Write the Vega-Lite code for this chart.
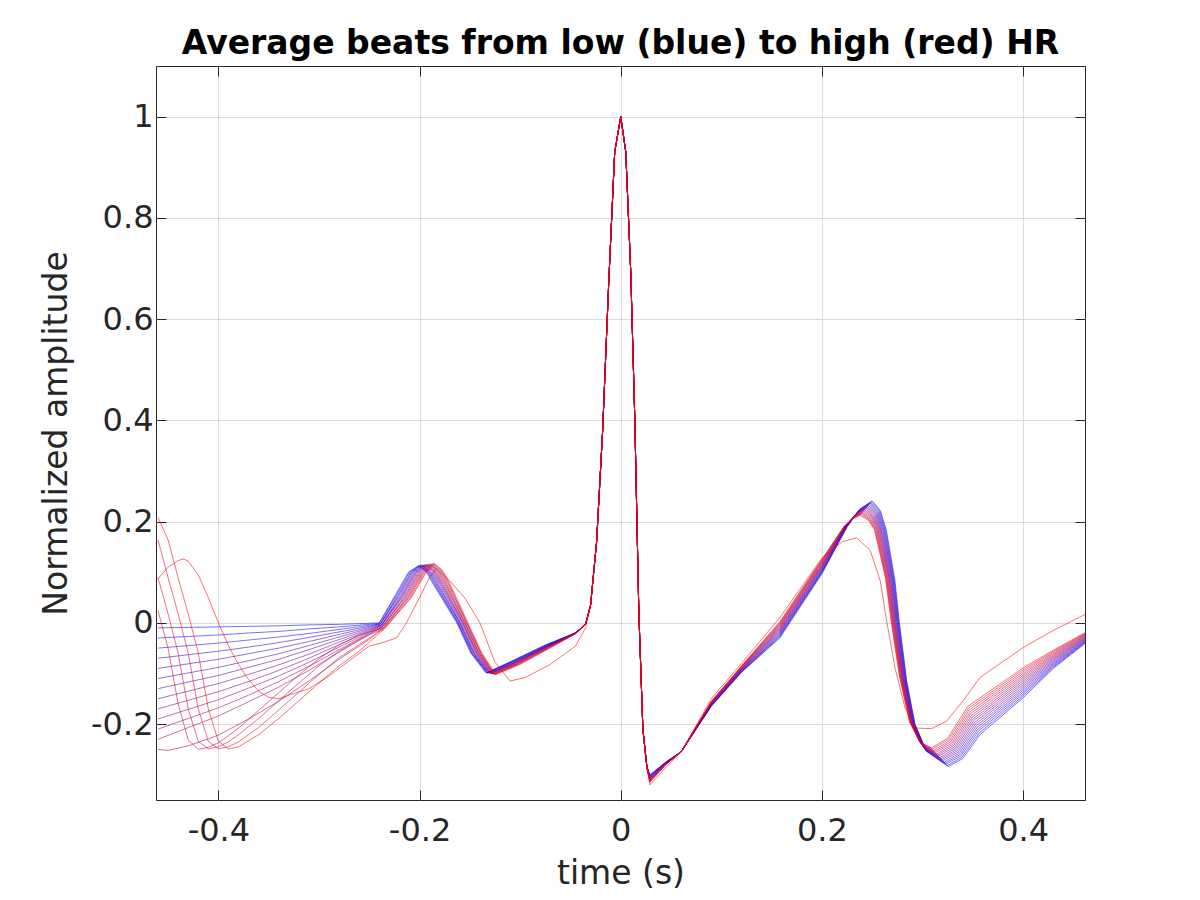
{
  "$schema": "https://vega.github.io/schema/vega-lite/v6.json",
  "width": 929,
  "height": 734,
  "autosize": {"type": "none"},
  "padding": {"left": 156, "top": 66, "right": 115, "bottom": 100},
  "background": "white",
  "title": {
    "text": "Average beats from low (blue) to high (red) HR",
    "font": "DejaVu Sans",
    "fontSize": 33,
    "fontWeight": "bold",
    "color": "#000000",
    "anchor": "middle",
    "baseline": "alphabetic",
    "offset": 12,
    "dy": 33
  },
  "data": {
    "values": [
      {"k":0,"t":-0.46,"v":-0.01},{"k":0,"t":-0.43,"v":-0.009},{"k":0,"t":-0.4,"v":-0.008},{"k":0,"t":-0.37,"v":-0.007},{"k":0,"t":-0.34,"v":-0.006},{"k":0,"t":-0.31,"v":-0.004},{"k":0,"t":-0.28,"v":-0.003},{"k":0,"t":-0.25,"v":-0.001},
      {"k":0,"t":-0.24,"v":0},{"k":0,"t":-0.224,"v":0.055},{"k":0,"t":-0.211,"v":0.1},{"k":0,"t":-0.201,"v":0.113},{"k":0,"t":-0.193,"v":0.1},{"k":0,"t":-0.186,"v":0.075},{"k":0,"t":-0.163,"v":0},{"k":0,"t":-0.149,"v":-0.06},{"k":0,"t":-0.134,"v":-0.099},{"k":0,"t":-0.11,"v":-0.077},{"k":0,"t":-0.075,"v":-0.044},{"k":0,"t":-0.045,"v":-0.02},
      {"k":0,"t":-0.035,"v":-0.003},{"k":0,"t":-0.03,"v":0.035},{"k":0,"t":-0.024,"v":0.16},{"k":0,"t":-0.018,"v":0.38},{"k":0,"t":-0.012,"v":0.67},{"k":0,"t":-0.006,"v":0.93},{"k":0,"t":0,"v":1},{"k":0,"t":0.005,"v":0.93},{"k":0,"t":0.01,"v":0.69},{"k":0,"t":0.014,"v":0.4},{"k":0,"t":0.018,"v":0.02},{"k":0,"t":0.022,"v":-0.21},{"k":0,"t":0.026,"v":-0.285},{"k":0,"t":0.029,"v":-0.3},
      {"k":0,"t":0.045,"v":-0.275},{"k":0,"t":0.06,"v":-0.255},{"k":0,"t":0.09,"v":-0.165},{"k":0,"t":0.12,"v":-0.098},{"k":0,"t":0.158,"v":-0.03},{"k":0,"t":0.2,"v":0.097},{"k":0,"t":0.225,"v":0.19},{"k":0,"t":0.238,"v":0.225},{"k":0,"t":0.25,"v":0.241},{"k":0,"t":0.258,"v":0.222},{"k":0,"t":0.264,"v":0.183},{"k":0,"t":0.2726,"v":0.083},{"k":0,"t":0.277,"v":0},{"k":0,"t":0.2843,"v":-0.115},{"k":0,"t":0.2925,"v":-0.2},{"k":0,"t":0.304,"v":-0.254},{"k":0,"t":0.3257,"v":-0.284},{"k":0,"t":0.34,"v":-0.268},{"k":0,"t":0.357,"v":-0.221},{"k":0,"t":0.4,"v":-0.148},{"k":0,"t":0.43,"v":-0.09},{"k":0,"t":0.462,"v":-0.04},

      {"k":1,"t":-0.46,"v":-0.03},{"k":1,"t":-0.43,"v":-0.027},{"k":1,"t":-0.4,"v":-0.024},{"k":1,"t":-0.37,"v":-0.02},{"k":1,"t":-0.34,"v":-0.017},{"k":1,"t":-0.31,"v":-0.012},{"k":1,"t":-0.28,"v":-0.008},{"k":1,"t":-0.25,"v":-0.003},
      {"k":1,"t":-0.24,"v":-0.001},{"k":1,"t":-0.223,"v":0.055},{"k":1,"t":-0.21,"v":0.1},{"k":1,"t":-0.2,"v":0.113},{"k":1,"t":-0.192,"v":0.1},{"k":1,"t":-0.185,"v":0.075},{"k":1,"t":-0.162,"v":0},{"k":1,"t":-0.148,"v":-0.06},{"k":1,"t":-0.133,"v":-0.099},{"k":1,"t":-0.109,"v":-0.077},{"k":1,"t":-0.075,"v":-0.044},{"k":1,"t":-0.045,"v":-0.02},
      {"k":1,"t":-0.035,"v":-0.003},{"k":1,"t":-0.03,"v":0.035},{"k":1,"t":-0.024,"v":0.16},{"k":1,"t":-0.018,"v":0.38},{"k":1,"t":-0.012,"v":0.67},{"k":1,"t":-0.006,"v":0.93},{"k":1,"t":0,"v":1},{"k":1,"t":0.005,"v":0.93},{"k":1,"t":0.01,"v":0.69},{"k":1,"t":0.014,"v":0.4},{"k":1,"t":0.018,"v":0.02},{"k":1,"t":0.022,"v":-0.21},{"k":1,"t":0.026,"v":-0.285},{"k":1,"t":0.029,"v":-0.301},
      {"k":1,"t":0.045,"v":-0.275},{"k":1,"t":0.06,"v":-0.255},{"k":1,"t":0.09,"v":-0.164},{"k":1,"t":0.12,"v":-0.097},{"k":1,"t":0.158,"v":-0.028},{"k":1,"t":0.2,"v":0.099},{"k":1,"t":0.225,"v":0.19},{"k":1,"t":0.2375,"v":0.224},{"k":1,"t":0.2493,"v":0.239},{"k":1,"t":0.2573,"v":0.221},{"k":1,"t":0.2633,"v":0.183},{"k":1,"t":0.272,"v":0.083},{"k":1,"t":0.2765,"v":0},{"k":1,"t":0.2838,"v":-0.114},{"k":1,"t":0.2922,"v":-0.2},{"k":1,"t":0.3036,"v":-0.253},{"k":1,"t":0.3247,"v":-0.282},{"k":1,"t":0.3391,"v":-0.2655},{"k":1,"t":0.3563,"v":-0.2175},{"k":1,"t":0.4,"v":-0.1443},{"k":1,"t":0.43,"v":-0.0878},{"k":1,"t":0.462,"v":-0.0387},

      {"k":2,"t":-0.46,"v":-0.05},{"k":2,"t":-0.43,"v":-0.045},{"k":2,"t":-0.4,"v":-0.04},{"k":2,"t":-0.37,"v":-0.034},{"k":2,"t":-0.34,"v":-0.028},{"k":2,"t":-0.31,"v":-0.021},{"k":2,"t":-0.28,"v":-0.013},{"k":2,"t":-0.25,"v":-0.005},
      {"k":2,"t":-0.239,"v":-0.002},{"k":2,"t":-0.222,"v":0.054},{"k":2,"t":-0.209,"v":0.099},{"k":2,"t":-0.199,"v":0.114},{"k":2,"t":-0.191,"v":0.1},{"k":2,"t":-0.184,"v":0.075},{"k":2,"t":-0.162,"v":0},{"k":2,"t":-0.148,"v":-0.06},{"k":2,"t":-0.133,"v":-0.099},{"k":2,"t":-0.109,"v":-0.078},{"k":2,"t":-0.074,"v":-0.045},{"k":2,"t":-0.045,"v":-0.02},
      {"k":2,"t":-0.035,"v":-0.003},{"k":2,"t":-0.03,"v":0.035},{"k":2,"t":-0.024,"v":0.16},{"k":2,"t":-0.018,"v":0.38},{"k":2,"t":-0.012,"v":0.67},{"k":2,"t":-0.006,"v":0.93},{"k":2,"t":0,"v":1},{"k":2,"t":0.005,"v":0.93},{"k":2,"t":0.01,"v":0.69},{"k":2,"t":0.014,"v":0.4},{"k":2,"t":0.018,"v":0.02},{"k":2,"t":0.022,"v":-0.21},{"k":2,"t":0.026,"v":-0.285},{"k":2,"t":0.029,"v":-0.302},
      {"k":2,"t":0.045,"v":-0.275},{"k":2,"t":0.06,"v":-0.255},{"k":2,"t":0.09,"v":-0.164},{"k":2,"t":0.12,"v":-0.096},{"k":2,"t":0.158,"v":-0.026},{"k":2,"t":0.2,"v":0.101},{"k":2,"t":0.225,"v":0.19},{"k":2,"t":0.237,"v":0.223},{"k":2,"t":0.2485,"v":0.237},{"k":2,"t":0.2565,"v":0.22},{"k":2,"t":0.2625,"v":0.183},{"k":2,"t":0.2714,"v":0.083},{"k":2,"t":0.276,"v":0},{"k":2,"t":0.2834,"v":-0.114},{"k":2,"t":0.2918,"v":-0.2},{"k":2,"t":0.3031,"v":-0.252},{"k":2,"t":0.3236,"v":-0.279},{"k":2,"t":0.3381,"v":-0.263},{"k":2,"t":0.3555,"v":-0.214},{"k":2,"t":0.4,"v":-0.1406},{"k":2,"t":0.43,"v":-0.0855},{"k":2,"t":0.462,"v":-0.0374},

      {"k":3,"t":-0.46,"v":-0.07},{"k":3,"t":-0.43,"v":-0.063},{"k":3,"t":-0.4,"v":-0.056},{"k":3,"t":-0.37,"v":-0.048},{"k":3,"t":-0.34,"v":-0.039},{"k":3,"t":-0.31,"v":-0.029},{"k":3,"t":-0.28,"v":-0.018},{"k":3,"t":-0.25,"v":-0.007},
      {"k":3,"t":-0.239,"v":-0.002},{"k":3,"t":-0.221,"v":0.054},{"k":3,"t":-0.208,"v":0.099},{"k":3,"t":-0.198,"v":0.114},{"k":3,"t":-0.19,"v":0.1},{"k":3,"t":-0.183,"v":0.075},{"k":3,"t":-0.161,"v":0},{"k":3,"t":-0.147,"v":-0.06},{"k":3,"t":-0.132,"v":-0.099},{"k":3,"t":-0.108,"v":-0.078},{"k":3,"t":-0.074,"v":-0.045},{"k":3,"t":-0.045,"v":-0.02},
      {"k":3,"t":-0.035,"v":-0.003},{"k":3,"t":-0.03,"v":0.035},{"k":3,"t":-0.024,"v":0.16},{"k":3,"t":-0.018,"v":0.38},{"k":3,"t":-0.012,"v":0.67},{"k":3,"t":-0.006,"v":0.93},{"k":3,"t":0,"v":1},{"k":3,"t":0.005,"v":0.93},{"k":3,"t":0.01,"v":0.69},{"k":3,"t":0.014,"v":0.4},{"k":3,"t":0.018,"v":0.02},{"k":3,"t":0.022,"v":-0.21},{"k":3,"t":0.026,"v":-0.285},{"k":3,"t":0.029,"v":-0.303},
      {"k":3,"t":0.045,"v":-0.275},{"k":3,"t":0.06,"v":-0.255},{"k":3,"t":0.09,"v":-0.163},{"k":3,"t":0.12,"v":-0.096},{"k":3,"t":0.158,"v":-0.024},{"k":3,"t":0.2,"v":0.102},{"k":3,"t":0.224,"v":0.19},{"k":3,"t":0.2365,"v":0.221},{"k":3,"t":0.2478,"v":0.236},{"k":3,"t":0.2558,"v":0.218},{"k":3,"t":0.2618,"v":0.183},{"k":3,"t":0.2708,"v":0.083},{"k":3,"t":0.2755,"v":0},{"k":3,"t":0.2829,"v":-0.113},{"k":3,"t":0.2915,"v":-0.2},{"k":3,"t":0.3027,"v":-0.25},{"k":3,"t":0.3226,"v":-0.277},{"k":3,"t":0.3372,"v":-0.2605},{"k":3,"t":0.3548,"v":-0.2105},{"k":3,"t":0.4,"v":-0.1369},{"k":3,"t":0.43,"v":-0.0833},{"k":3,"t":0.462,"v":-0.0361},

      {"k":4,"t":-0.46,"v":-0.09},{"k":4,"t":-0.43,"v":-0.081},{"k":4,"t":-0.4,"v":-0.072},{"k":4,"t":-0.37,"v":-0.061},{"k":4,"t":-0.34,"v":-0.05},{"k":4,"t":-0.31,"v":-0.037},{"k":4,"t":-0.28,"v":-0.023},{"k":4,"t":-0.25,"v":-0.009},
      {"k":4,"t":-0.239,"v":-0.003},{"k":4,"t":-0.22,"v":0.054},{"k":4,"t":-0.207,"v":0.099},{"k":4,"t":-0.197,"v":0.114},{"k":4,"t":-0.189,"v":0.1},{"k":4,"t":-0.182,"v":0.075},{"k":4,"t":-0.16,"v":0},{"k":4,"t":-0.146,"v":-0.06},{"k":4,"t":-0.132,"v":-0.099},{"k":4,"t":-0.108,"v":-0.078},{"k":4,"t":-0.074,"v":-0.045},{"k":4,"t":-0.045,"v":-0.02},
      {"k":4,"t":-0.035,"v":-0.003},{"k":4,"t":-0.03,"v":0.035},{"k":4,"t":-0.024,"v":0.16},{"k":4,"t":-0.018,"v":0.38},{"k":4,"t":-0.012,"v":0.67},{"k":4,"t":-0.006,"v":0.93},{"k":4,"t":0,"v":1},{"k":4,"t":0.005,"v":0.93},{"k":4,"t":0.01,"v":0.69},{"k":4,"t":0.014,"v":0.4},{"k":4,"t":0.018,"v":0.02},{"k":4,"t":0.022,"v":-0.21},{"k":4,"t":0.026,"v":-0.285},{"k":4,"t":0.029,"v":-0.304},
      {"k":4,"t":0.045,"v":-0.276},{"k":4,"t":0.06,"v":-0.255},{"k":4,"t":0.09,"v":-0.163},{"k":4,"t":0.12,"v":-0.095},{"k":4,"t":0.158,"v":-0.022},{"k":4,"t":0.2,"v":0.104},{"k":4,"t":0.224,"v":0.19},{"k":4,"t":0.236,"v":0.22},{"k":4,"t":0.247,"v":0.234},{"k":4,"t":0.255,"v":0.217},{"k":4,"t":0.261,"v":0.183},{"k":4,"t":0.2702,"v":0.083},{"k":4,"t":0.275,"v":0},{"k":4,"t":0.2825,"v":-0.113},{"k":4,"t":0.2911,"v":-0.199},{"k":4,"t":0.3022,"v":-0.249},{"k":4,"t":0.3215,"v":-0.275},{"k":4,"t":0.3363,"v":-0.258},{"k":4,"t":0.354,"v":-0.207},{"k":4,"t":0.4,"v":-0.1333},{"k":4,"t":0.43,"v":-0.081},{"k":4,"t":0.462,"v":-0.0348},

      {"k":5,"t":-0.46,"v":-0.11},{"k":5,"t":-0.43,"v":-0.099},{"k":5,"t":-0.4,"v":-0.088},{"k":5,"t":-0.37,"v":-0.075},{"k":5,"t":-0.34,"v":-0.061},{"k":5,"t":-0.31,"v":-0.045},{"k":5,"t":-0.28,"v":-0.028},{"k":5,"t":-0.25,"v":-0.011},
      {"k":5,"t":-0.238,"v":-0.004},{"k":5,"t":-0.219,"v":0.053},{"k":5,"t":-0.206,"v":0.098},{"k":5,"t":-0.196,"v":0.114},{"k":5,"t":-0.188,"v":0.1},{"k":5,"t":-0.181,"v":0.075},{"k":5,"t":-0.16,"v":0},{"k":5,"t":-0.146,"v":-0.06},{"k":5,"t":-0.131,"v":-0.099},{"k":5,"t":-0.107,"v":-0.079},{"k":5,"t":-0.073,"v":-0.046},{"k":5,"t":-0.045,"v":-0.02},
      {"k":5,"t":-0.035,"v":-0.003},{"k":5,"t":-0.03,"v":0.035},{"k":5,"t":-0.024,"v":0.16},{"k":5,"t":-0.018,"v":0.38},{"k":5,"t":-0.012,"v":0.67},{"k":5,"t":-0.006,"v":0.93},{"k":5,"t":0,"v":1},{"k":5,"t":0.005,"v":0.93},{"k":5,"t":0.01,"v":0.69},{"k":5,"t":0.014,"v":0.4},{"k":5,"t":0.018,"v":0.02},{"k":5,"t":0.022,"v":-0.21},{"k":5,"t":0.026,"v":-0.285},{"k":5,"t":0.029,"v":-0.305},
      {"k":5,"t":0.045,"v":-0.276},{"k":5,"t":0.06,"v":-0.255},{"k":5,"t":0.09,"v":-0.162},{"k":5,"t":0.12,"v":-0.094},{"k":5,"t":0.158,"v":-0.02},{"k":5,"t":0.2,"v":0.106},{"k":5,"t":0.224,"v":0.19},{"k":5,"t":0.2355,"v":0.219},{"k":5,"t":0.2463,"v":0.232},{"k":5,"t":0.2543,"v":0.216},{"k":5,"t":0.2603,"v":0.183},{"k":5,"t":0.2696,"v":0.085},{"k":5,"t":0.2745,"v":0},{"k":5,"t":0.282,"v":-0.112},{"k":5,"t":0.2908,"v":-0.199},{"k":5,"t":0.3018,"v":-0.248},{"k":5,"t":0.3205,"v":-0.272},{"k":5,"t":0.3353,"v":-0.2555},{"k":5,"t":0.3533,"v":-0.2035},{"k":5,"t":0.4,"v":-0.1296},{"k":5,"t":0.43,"v":-0.0788},{"k":5,"t":0.462,"v":-0.0334},

      {"k":6,"t":-0.46,"v":-0.13},{"k":6,"t":-0.43,"v":-0.117},{"k":6,"t":-0.4,"v":-0.104},{"k":6,"t":-0.37,"v":-0.088},{"k":6,"t":-0.34,"v":-0.072},{"k":6,"t":-0.31,"v":-0.053},{"k":6,"t":-0.28,"v":-0.033},{"k":6,"t":-0.25,"v":-0.013},
      {"k":6,"t":-0.238,"v":-0.005},{"k":6,"t":-0.218,"v":0.053},{"k":6,"t":-0.205,"v":0.098},{"k":6,"t":-0.195,"v":0.115},{"k":6,"t":-0.187,"v":0.101},{"k":6,"t":-0.18,"v":0.076},{"k":6,"t":-0.159,"v":0},{"k":6,"t":-0.145,"v":-0.06},{"k":6,"t":-0.13,"v":-0.1},{"k":6,"t":-0.106,"v":-0.079},{"k":6,"t":-0.073,"v":-0.046},{"k":6,"t":-0.045,"v":-0.02},
      {"k":6,"t":-0.035,"v":-0.003},{"k":6,"t":-0.03,"v":0.035},{"k":6,"t":-0.024,"v":0.16},{"k":6,"t":-0.018,"v":0.38},{"k":6,"t":-0.012,"v":0.67},{"k":6,"t":-0.006,"v":0.93},{"k":6,"t":0,"v":1},{"k":6,"t":0.005,"v":0.93},{"k":6,"t":0.01,"v":0.69},{"k":6,"t":0.014,"v":0.4},{"k":6,"t":0.018,"v":0.02},{"k":6,"t":0.022,"v":-0.21},{"k":6,"t":0.026,"v":-0.285},{"k":6,"t":0.029,"v":-0.306},
      {"k":6,"t":0.045,"v":-0.276},{"k":6,"t":0.06,"v":-0.255},{"k":6,"t":0.09,"v":-0.161},{"k":6,"t":0.12,"v":-0.093},{"k":6,"t":0.158,"v":-0.018},{"k":6,"t":0.2,"v":0.108},{"k":6,"t":0.224,"v":0.19},{"k":6,"t":0.235,"v":0.218},{"k":6,"t":0.2455,"v":0.23},{"k":6,"t":0.2535,"v":0.215},{"k":6,"t":0.2595,"v":0.183},{"k":6,"t":0.269,"v":0.085},{"k":6,"t":0.274,"v":0},{"k":6,"t":0.2816,"v":-0.111},{"k":6,"t":0.2904,"v":-0.199},{"k":6,"t":0.3014,"v":-0.247},{"k":6,"t":0.3194,"v":-0.27},{"k":6,"t":0.3344,"v":-0.253},{"k":6,"t":0.3525,"v":-0.2},{"k":6,"t":0.4,"v":-0.1259},{"k":6,"t":0.43,"v":-0.0765},{"k":6,"t":0.462,"v":-0.0321},

      {"k":7,"t":-0.46,"v":-0.15},{"k":7,"t":-0.43,"v":-0.135},{"k":7,"t":-0.4,"v":-0.12},{"k":7,"t":-0.37,"v":-0.102},{"k":7,"t":-0.34,"v":-0.083},{"k":7,"t":-0.31,"v":-0.062},{"k":7,"t":-0.28,"v":-0.038},{"k":7,"t":-0.25,"v":-0.015},
      {"k":7,"t":-0.238,"v":-0.005},{"k":7,"t":-0.217,"v":0.053},{"k":7,"t":-0.204,"v":0.098},{"k":7,"t":-0.194,"v":0.115},{"k":7,"t":-0.186,"v":0.101},{"k":7,"t":-0.179,"v":0.076},{"k":7,"t":-0.158,"v":0},{"k":7,"t":-0.144,"v":-0.06},{"k":7,"t":-0.13,"v":-0.1},{"k":7,"t":-0.106,"v":-0.079},{"k":7,"t":-0.073,"v":-0.046},{"k":7,"t":-0.045,"v":-0.02},
      {"k":7,"t":-0.035,"v":-0.003},{"k":7,"t":-0.03,"v":0.035},{"k":7,"t":-0.024,"v":0.16},{"k":7,"t":-0.018,"v":0.38},{"k":7,"t":-0.012,"v":0.67},{"k":7,"t":-0.006,"v":0.93},{"k":7,"t":0,"v":1},{"k":7,"t":0.005,"v":0.93},{"k":7,"t":0.01,"v":0.69},{"k":7,"t":0.014,"v":0.4},{"k":7,"t":0.018,"v":0.02},{"k":7,"t":0.022,"v":-0.21},{"k":7,"t":0.026,"v":-0.285},{"k":7,"t":0.029,"v":-0.307},
      {"k":7,"t":0.045,"v":-0.276},{"k":7,"t":0.06,"v":-0.255},{"k":7,"t":0.09,"v":-0.161},{"k":7,"t":0.12,"v":-0.092},{"k":7,"t":0.158,"v":-0.016},{"k":7,"t":0.2,"v":0.11},{"k":7,"t":0.224,"v":0.19},{"k":7,"t":0.2345,"v":0.216},{"k":7,"t":0.2448,"v":0.228},{"k":7,"t":0.2528,"v":0.214},{"k":7,"t":0.2588,"v":0.183},{"k":7,"t":0.2684,"v":0.085},{"k":7,"t":0.2735,"v":0},{"k":7,"t":0.2811,"v":-0.111},{"k":7,"t":0.2901,"v":-0.199},{"k":7,"t":0.3009,"v":-0.246},{"k":7,"t":0.3184,"v":-0.268},{"k":7,"t":0.3334,"v":-0.2505},{"k":7,"t":0.3518,"v":-0.1965},{"k":7,"t":0.4,"v":-0.1222},{"k":7,"t":0.43,"v":-0.0743},{"k":7,"t":0.462,"v":-0.0308},

      {"k":8,"t":-0.46,"v":-0.17},{"k":8,"t":-0.43,"v":-0.153},{"k":8,"t":-0.4,"v":-0.136},{"k":8,"t":-0.37,"v":-0.116},{"k":8,"t":-0.34,"v":-0.094},{"k":8,"t":-0.31,"v":-0.07},{"k":8,"t":-0.28,"v":-0.043},{"k":8,"t":-0.25,"v":-0.017},
      {"k":8,"t":-0.238,"v":-0.006},{"k":8,"t":-0.216,"v":0.053},{"k":8,"t":-0.203,"v":0.098},{"k":8,"t":-0.193,"v":0.115},{"k":8,"t":-0.185,"v":0.101},{"k":8,"t":-0.178,"v":0.076},{"k":8,"t":-0.157,"v":0},{"k":8,"t":-0.143,"v":-0.06},{"k":8,"t":-0.129,"v":-0.1},{"k":8,"t":-0.105,"v":-0.079},{"k":8,"t":-0.073,"v":-0.046},{"k":8,"t":-0.045,"v":-0.021},
      {"k":8,"t":-0.035,"v":-0.003},{"k":8,"t":-0.03,"v":0.035},{"k":8,"t":-0.024,"v":0.16},{"k":8,"t":-0.018,"v":0.38},{"k":8,"t":-0.012,"v":0.67},{"k":8,"t":-0.006,"v":0.93},{"k":8,"t":0,"v":1},{"k":8,"t":0.005,"v":0.93},{"k":8,"t":0.01,"v":0.69},{"k":8,"t":0.014,"v":0.4},{"k":8,"t":0.018,"v":0.02},{"k":8,"t":0.022,"v":-0.21},{"k":8,"t":0.026,"v":-0.285},{"k":8,"t":0.029,"v":-0.308},
      {"k":8,"t":0.045,"v":-0.278},{"k":8,"t":0.06,"v":-0.255},{"k":8,"t":0.09,"v":-0.16},{"k":8,"t":0.12,"v":-0.092},{"k":8,"t":0.158,"v":-0.014},{"k":8,"t":0.2,"v":0.112},{"k":8,"t":0.223,"v":0.19},{"k":8,"t":0.234,"v":0.215},{"k":8,"t":0.244,"v":0.227},{"k":8,"t":0.252,"v":0.212},{"k":8,"t":0.258,"v":0.184},{"k":8,"t":0.2678,"v":0.085},{"k":8,"t":0.273,"v":0},{"k":8,"t":0.2807,"v":-0.11},{"k":8,"t":0.2897,"v":-0.198},{"k":8,"t":0.3005,"v":-0.245},{"k":8,"t":0.3173,"v":-0.266},{"k":8,"t":0.3325,"v":-0.248},{"k":8,"t":0.351,"v":-0.193},{"k":8,"t":0.4,"v":-0.1185},{"k":8,"t":0.43,"v":-0.072},{"k":8,"t":0.462,"v":-0.0295},

      {"k":9,"t":-0.46,"v":-0.19},{"k":9,"t":-0.43,"v":-0.171},{"k":9,"t":-0.4,"v":-0.152},{"k":9,"t":-0.37,"v":-0.129},{"k":9,"t":-0.34,"v":-0.105},{"k":9,"t":-0.31,"v":-0.078},{"k":9,"t":-0.28,"v":-0.048},{"k":9,"t":-0.25,"v":-0.019},
      {"k":9,"t":-0.237,"v":-0.007},{"k":9,"t":-0.215,"v":0.052},{"k":9,"t":-0.202,"v":0.097},{"k":9,"t":-0.192,"v":0.115},{"k":9,"t":-0.184,"v":0.101},{"k":9,"t":-0.177,"v":0.076},{"k":9,"t":-0.157,"v":0},{"k":9,"t":-0.143,"v":-0.06},{"k":9,"t":-0.129,"v":-0.1},{"k":9,"t":-0.105,"v":-0.08},{"k":9,"t":-0.072,"v":-0.047},{"k":9,"t":-0.045,"v":-0.021},
      {"k":9,"t":-0.035,"v":-0.003},{"k":9,"t":-0.03,"v":0.035},{"k":9,"t":-0.024,"v":0.16},{"k":9,"t":-0.018,"v":0.38},{"k":9,"t":-0.012,"v":0.67},{"k":9,"t":-0.006,"v":0.93},{"k":9,"t":0,"v":1},{"k":9,"t":0.005,"v":0.93},{"k":9,"t":0.01,"v":0.69},{"k":9,"t":0.014,"v":0.4},{"k":9,"t":0.018,"v":0.02},{"k":9,"t":0.022,"v":-0.21},{"k":9,"t":0.026,"v":-0.285},{"k":9,"t":0.029,"v":-0.308},
      {"k":9,"t":0.045,"v":-0.278},{"k":9,"t":0.06,"v":-0.255},{"k":9,"t":0.09,"v":-0.159},{"k":9,"t":0.12,"v":-0.091},{"k":9,"t":0.158,"v":-0.012},{"k":9,"t":0.2,"v":0.113},{"k":9,"t":0.223,"v":0.19},{"k":9,"t":0.2335,"v":0.214},{"k":9,"t":0.2433,"v":0.225},{"k":9,"t":0.2513,"v":0.211},{"k":9,"t":0.2573,"v":0.184},{"k":9,"t":0.2672,"v":0.085},{"k":9,"t":0.2725,"v":0},{"k":9,"t":0.2802,"v":-0.109},{"k":9,"t":0.2894,"v":-0.198},{"k":9,"t":0.3,"v":-0.243},{"k":9,"t":0.3163,"v":-0.263},{"k":9,"t":0.3316,"v":-0.2455},{"k":9,"t":0.3503,"v":-0.1895},{"k":9,"t":0.4,"v":-0.1148},{"k":9,"t":0.43,"v":-0.0698},{"k":9,"t":0.462,"v":-0.0282},

      {"k":10,"t":-0.46,"v":-0.21},{"k":10,"t":-0.43,"v":-0.189},{"k":10,"t":-0.4,"v":-0.168},{"k":10,"t":-0.37,"v":-0.143},{"k":10,"t":-0.34,"v":-0.116},{"k":10,"t":-0.31,"v":-0.086},{"k":10,"t":-0.28,"v":-0.053},{"k":10,"t":-0.25,"v":-0.021},
      {"k":10,"t":-0.237,"v":-0.008},{"k":10,"t":-0.214,"v":0.052},{"k":10,"t":-0.201,"v":0.097},{"k":10,"t":-0.191,"v":0.116},{"k":10,"t":-0.183,"v":0.101},{"k":10,"t":-0.176,"v":0.076},{"k":10,"t":-0.156,"v":0},{"k":10,"t":-0.142,"v":-0.06},{"k":10,"t":-0.128,"v":-0.1},{"k":10,"t":-0.104,"v":-0.08},{"k":10,"t":-0.072,"v":-0.047},{"k":10,"t":-0.045,"v":-0.021},
      {"k":10,"t":-0.035,"v":-0.003},{"k":10,"t":-0.03,"v":0.035},{"k":10,"t":-0.024,"v":0.16},{"k":10,"t":-0.018,"v":0.38},{"k":10,"t":-0.012,"v":0.67},{"k":10,"t":-0.006,"v":0.93},{"k":10,"t":0,"v":1},{"k":10,"t":0.005,"v":0.93},{"k":10,"t":0.01,"v":0.69},{"k":10,"t":0.014,"v":0.4},{"k":10,"t":0.018,"v":0.02},{"k":10,"t":0.022,"v":-0.21},{"k":10,"t":0.026,"v":-0.285},{"k":10,"t":0.029,"v":-0.309},
      {"k":10,"t":0.045,"v":-0.278},{"k":10,"t":0.06,"v":-0.255},{"k":10,"t":0.09,"v":-0.159},{"k":10,"t":0.12,"v":-0.09},{"k":10,"t":0.158,"v":-0.01},{"k":10,"t":0.2,"v":0.115},{"k":10,"t":0.223,"v":0.19},{"k":10,"t":0.233,"v":0.213},{"k":10,"t":0.2425,"v":0.223},{"k":10,"t":0.2505,"v":0.21},{"k":10,"t":0.2565,"v":0.184},{"k":10,"t":0.2666,"v":0.087},{"k":10,"t":0.272,"v":0},{"k":10,"t":0.2798,"v":-0.109},{"k":10,"t":0.289,"v":-0.198},{"k":10,"t":0.2996,"v":-0.242},{"k":10,"t":0.3153,"v":-0.261},{"k":10,"t":0.3306,"v":-0.243},{"k":10,"t":0.3495,"v":-0.186},{"k":10,"t":0.4,"v":-0.1111},{"k":10,"t":0.43,"v":-0.0675},{"k":10,"t":0.462,"v":-0.0269},

      {"k":11,"t":-0.46,"v":-0.23},{"k":11,"t":-0.43,"v":-0.207},{"k":11,"t":-0.4,"v":-0.184},{"k":11,"t":-0.37,"v":-0.156},{"k":11,"t":-0.34,"v":-0.127},{"k":11,"t":-0.31,"v":-0.094},{"k":11,"t":-0.28,"v":-0.058},{"k":11,"t":-0.25,"v":-0.023},
      {"k":11,"t":-0.237,"v":-0.008},{"k":11,"t":-0.213,"v":0.052},{"k":11,"t":-0.2,"v":0.097},{"k":11,"t":-0.19,"v":0.116},{"k":11,"t":-0.182,"v":0.102},{"k":11,"t":-0.175,"v":0.077},{"k":11,"t":-0.155,"v":0},{"k":11,"t":-0.141,"v":-0.06},{"k":11,"t":-0.127,"v":-0.101},{"k":11,"t":-0.103,"v":-0.08},{"k":11,"t":-0.072,"v":-0.047},{"k":11,"t":-0.045,"v":-0.021},
      {"k":11,"t":-0.035,"v":-0.003},{"k":11,"t":-0.03,"v":0.035},{"k":11,"t":-0.024,"v":0.16},{"k":11,"t":-0.018,"v":0.38},{"k":11,"t":-0.012,"v":0.67},{"k":11,"t":-0.006,"v":0.93},{"k":11,"t":0,"v":1},{"k":11,"t":0.005,"v":0.93},{"k":11,"t":0.01,"v":0.69},{"k":11,"t":0.014,"v":0.4},{"k":11,"t":0.018,"v":0.02},{"k":11,"t":0.022,"v":-0.21},{"k":11,"t":0.026,"v":-0.285},{"k":11,"t":0.029,"v":-0.31},
      {"k":11,"t":0.045,"v":-0.278},{"k":11,"t":0.06,"v":-0.255},{"k":11,"t":0.09,"v":-0.158},{"k":11,"t":0.12,"v":-0.089},{"k":11,"t":0.158,"v":-0.008},{"k":11,"t":0.2,"v":0.117},{"k":11,"t":0.223,"v":0.19},{"k":11,"t":0.2325,"v":0.211},{"k":11,"t":0.2418,"v":0.221},{"k":11,"t":0.2498,"v":0.209},{"k":11,"t":0.2558,"v":0.184},{"k":11,"t":0.266,"v":0.087},{"k":11,"t":0.2715,"v":0},{"k":11,"t":0.2793,"v":-0.108},{"k":11,"t":0.2887,"v":-0.198},{"k":11,"t":0.2992,"v":-0.241},{"k":11,"t":0.3142,"v":-0.259},{"k":11,"t":0.3297,"v":-0.2405},{"k":11,"t":0.3488,"v":-0.1825},{"k":11,"t":0.4,"v":-0.1074},{"k":11,"t":0.43,"v":-0.0653},{"k":11,"t":0.462,"v":-0.0256},

      {"k":12,"t":-0.46,"v":-0.25},{"k":12,"t":-0.45,"v":-0.252},{"k":12,"t":-0.43,"v":-0.243},{"k":12,"t":-0.4,"v":-0.222},{"k":12,"t":-0.37,"v":-0.19},{"k":12,"t":-0.34,"v":-0.155},{"k":12,"t":-0.31,"v":-0.115},{"k":12,"t":-0.28,"v":-0.072},{"k":12,"t":-0.25,"v":-0.033},
      {"k":12,"t":-0.236,"v":-0.009},{"k":12,"t":-0.212,"v":0.051},{"k":12,"t":-0.199,"v":0.096},{"k":12,"t":-0.189,"v":0.116},{"k":12,"t":-0.181,"v":0.102},{"k":12,"t":-0.174,"v":0.077},{"k":12,"t":-0.155,"v":0},{"k":12,"t":-0.141,"v":-0.06},{"k":12,"t":-0.127,"v":-0.101},{"k":12,"t":-0.103,"v":-0.081},{"k":12,"t":-0.071,"v":-0.048},{"k":12,"t":-0.045,"v":-0.021},
      {"k":12,"t":-0.035,"v":-0.003},{"k":12,"t":-0.03,"v":0.035},{"k":12,"t":-0.024,"v":0.16},{"k":12,"t":-0.018,"v":0.38},{"k":12,"t":-0.012,"v":0.67},{"k":12,"t":-0.006,"v":0.93},{"k":12,"t":0,"v":1},{"k":12,"t":0.005,"v":0.93},{"k":12,"t":0.01,"v":0.69},{"k":12,"t":0.014,"v":0.4},{"k":12,"t":0.018,"v":0.02},{"k":12,"t":0.022,"v":-0.21},{"k":12,"t":0.026,"v":-0.285},{"k":12,"t":0.029,"v":-0.311},
      {"k":12,"t":0.045,"v":-0.279},{"k":12,"t":0.06,"v":-0.255},{"k":12,"t":0.09,"v":-0.158},{"k":12,"t":0.12,"v":-0.088},{"k":12,"t":0.158,"v":-0.006},{"k":12,"t":0.2,"v":0.119},{"k":12,"t":0.223,"v":0.19},{"k":12,"t":0.232,"v":0.21},{"k":12,"t":0.241,"v":0.219},{"k":12,"t":0.249,"v":0.208},{"k":12,"t":0.255,"v":0.184},{"k":12,"t":0.2654,"v":0.087},{"k":12,"t":0.271,"v":0},{"k":12,"t":0.2789,"v":-0.108},{"k":12,"t":0.2884,"v":-0.196},{"k":12,"t":0.2987,"v":-0.24},{"k":12,"t":0.3132,"v":-0.256},{"k":12,"t":0.3288,"v":-0.238},{"k":12,"t":0.348,"v":-0.179},{"k":12,"t":0.4,"v":-0.1038},{"k":12,"t":0.43,"v":-0.063},{"k":12,"t":0.462,"v":-0.0243},

      {"k":13,"t":-0.46,"v":0.024},{"k":13,"t":-0.45,"v":-0.05},{"k":13,"t":-0.44,"v":-0.16},{"k":13,"t":-0.43,"v":-0.231},{"k":13,"t":-0.42,"v":-0.25},{"k":13,"t":-0.41,"v":-0.246},{"k":13,"t":-0.4,"v":-0.237},{"k":13,"t":-0.39,"v":-0.223},{"k":13,"t":-0.38,"v":-0.208},{"k":13,"t":-0.36,"v":-0.173},{"k":13,"t":-0.34,"v":-0.138},{"k":13,"t":-0.32,"v":-0.103},{"k":13,"t":-0.3,"v":-0.071},{"k":13,"t":-0.28,"v":-0.044},{"k":13,"t":-0.26,"v":-0.024},
      {"k":13,"t":-0.236,"v":-0.01},{"k":13,"t":-0.211,"v":0.051},{"k":13,"t":-0.198,"v":0.096},{"k":13,"t":-0.188,"v":0.116},{"k":13,"t":-0.18,"v":0.102},{"k":13,"t":-0.173,"v":0.077},{"k":13,"t":-0.154,"v":0},{"k":13,"t":-0.14,"v":-0.06},{"k":13,"t":-0.126,"v":-0.101},{"k":13,"t":-0.102,"v":-0.081},{"k":13,"t":-0.071,"v":-0.048},{"k":13,"t":-0.045,"v":-0.021},
      {"k":13,"t":-0.035,"v":-0.003},{"k":13,"t":-0.03,"v":0.035},{"k":13,"t":-0.024,"v":0.16},{"k":13,"t":-0.018,"v":0.38},{"k":13,"t":-0.012,"v":0.67},{"k":13,"t":-0.006,"v":0.93},{"k":13,"t":0,"v":1},{"k":13,"t":0.005,"v":0.93},{"k":13,"t":0.01,"v":0.69},{"k":13,"t":0.014,"v":0.4},{"k":13,"t":0.018,"v":0.02},{"k":13,"t":0.022,"v":-0.21},{"k":13,"t":0.026,"v":-0.285},{"k":13,"t":0.029,"v":-0.312},
      {"k":13,"t":0.045,"v":-0.279},{"k":13,"t":0.06,"v":-0.255},{"k":13,"t":0.09,"v":-0.157},{"k":13,"t":0.12,"v":-0.087},{"k":13,"t":0.158,"v":-0.004},{"k":13,"t":0.2,"v":0.121},{"k":13,"t":0.222,"v":0.19},{"k":13,"t":0.2315,"v":0.209},{"k":13,"t":0.2403,"v":0.217},{"k":13,"t":0.2483,"v":0.206},{"k":13,"t":0.2543,"v":0.184},{"k":13,"t":0.2648,"v":0.087},{"k":13,"t":0.2705,"v":0},{"k":13,"t":0.2784,"v":-0.107},{"k":13,"t":0.288,"v":-0.196},{"k":13,"t":0.2983,"v":-0.239},{"k":13,"t":0.3121,"v":-0.254},{"k":13,"t":0.3278,"v":-0.2355},{"k":13,"t":0.3473,"v":-0.1755},{"k":13,"t":0.4,"v":-0.1001},{"k":13,"t":0.43,"v":-0.0608},{"k":13,"t":0.462,"v":-0.0229},

      {"k":14,"t":-0.46,"v":0.089},{"k":14,"t":-0.45,"v":0.018},{"k":14,"t":-0.44,"v":-0.06},{"k":14,"t":-0.43,"v":-0.17},{"k":14,"t":-0.42,"v":-0.234},{"k":14,"t":-0.41,"v":-0.249},{"k":14,"t":-0.4,"v":-0.245},{"k":14,"t":-0.39,"v":-0.235},{"k":14,"t":-0.38,"v":-0.221},{"k":14,"t":-0.36,"v":-0.189},{"k":14,"t":-0.34,"v":-0.154},{"k":14,"t":-0.32,"v":-0.119},{"k":14,"t":-0.3,"v":-0.085},{"k":14,"t":-0.28,"v":-0.056},{"k":14,"t":-0.26,"v":-0.033},
      {"k":14,"t":-0.236,"v":-0.011},{"k":14,"t":-0.21,"v":0.051},{"k":14,"t":-0.197,"v":0.096},{"k":14,"t":-0.187,"v":0.117},{"k":14,"t":-0.179,"v":0.103},{"k":14,"t":-0.172,"v":0.078},{"k":14,"t":-0.153,"v":0},{"k":14,"t":-0.139,"v":-0.06},{"k":14,"t":-0.126,"v":-0.102},{"k":14,"t":-0.102,"v":-0.081},{"k":14,"t":-0.071,"v":-0.048},{"k":14,"t":-0.045,"v":-0.021},
      {"k":14,"t":-0.035,"v":-0.003},{"k":14,"t":-0.03,"v":0.035},{"k":14,"t":-0.024,"v":0.16},{"k":14,"t":-0.018,"v":0.38},{"k":14,"t":-0.012,"v":0.67},{"k":14,"t":-0.006,"v":0.93},{"k":14,"t":0,"v":1},{"k":14,"t":0.005,"v":0.93},{"k":14,"t":0.01,"v":0.69},{"k":14,"t":0.014,"v":0.4},{"k":14,"t":0.018,"v":0.02},{"k":14,"t":0.022,"v":-0.21},{"k":14,"t":0.026,"v":-0.285},{"k":14,"t":0.029,"v":-0.313},
      {"k":14,"t":0.045,"v":-0.279},{"k":14,"t":0.06,"v":-0.255},{"k":14,"t":0.09,"v":-0.156},{"k":14,"t":0.12,"v":-0.087},{"k":14,"t":0.158,"v":-0.002},{"k":14,"t":0.2,"v":0.122},{"k":14,"t":0.222,"v":0.19},{"k":14,"t":0.231,"v":0.208},{"k":14,"t":0.2395,"v":0.216},{"k":14,"t":0.2475,"v":0.205},{"k":14,"t":0.2535,"v":0.184},{"k":14,"t":0.2642,"v":0.089},{"k":14,"t":0.27,"v":0},{"k":14,"t":0.278,"v":-0.106},{"k":14,"t":0.2877,"v":-0.196},{"k":14,"t":0.2978,"v":-0.237},{"k":14,"t":0.3111,"v":-0.252},{"k":14,"t":0.3269,"v":-0.233},{"k":14,"t":0.3465,"v":-0.172},{"k":14,"t":0.4,"v":-0.0964},{"k":14,"t":0.43,"v":-0.0585},{"k":14,"t":0.462,"v":-0.0216},

      {"k":15,"t":-0.46,"v":0.164},{"k":15,"t":-0.45,"v":0.089},{"k":15,"t":-0.44,"v":0.018},{"k":15,"t":-0.43,"v":-0.06},{"k":15,"t":-0.42,"v":-0.17},{"k":15,"t":-0.41,"v":-0.234},{"k":15,"t":-0.4,"v":-0.249},{"k":15,"t":-0.39,"v":-0.245},{"k":15,"t":-0.38,"v":-0.235},{"k":15,"t":-0.36,"v":-0.207},{"k":15,"t":-0.34,"v":-0.172},{"k":15,"t":-0.32,"v":-0.137},{"k":15,"t":-0.3,"v":-0.102},{"k":15,"t":-0.28,"v":-0.069},{"k":15,"t":-0.26,"v":-0.043},
      {"k":15,"t":-0.235,"v":-0.011},{"k":15,"t":-0.209,"v":0.05},{"k":15,"t":-0.196,"v":0.095},{"k":15,"t":-0.186,"v":0.117},{"k":15,"t":-0.178,"v":0.103},{"k":15,"t":-0.171,"v":0.078},{"k":15,"t":-0.153,"v":0},{"k":15,"t":-0.139,"v":-0.06},{"k":15,"t":-0.125,"v":-0.102},{"k":15,"t":-0.101,"v":-0.082},{"k":15,"t":-0.07,"v":-0.049},{"k":15,"t":-0.045,"v":-0.021},
      {"k":15,"t":-0.035,"v":-0.003},{"k":15,"t":-0.03,"v":0.035},{"k":15,"t":-0.024,"v":0.16},{"k":15,"t":-0.018,"v":0.38},{"k":15,"t":-0.012,"v":0.67},{"k":15,"t":-0.006,"v":0.93},{"k":15,"t":0,"v":1},{"k":15,"t":0.005,"v":0.93},{"k":15,"t":0.01,"v":0.69},{"k":15,"t":0.014,"v":0.4},{"k":15,"t":0.018,"v":0.02},{"k":15,"t":0.022,"v":-0.21},{"k":15,"t":0.026,"v":-0.285},{"k":15,"t":0.029,"v":-0.314},
      {"k":15,"t":0.045,"v":-0.279},{"k":15,"t":0.06,"v":-0.255},{"k":15,"t":0.09,"v":-0.156},{"k":15,"t":0.12,"v":-0.086},{"k":15,"t":0.158,"v":0},{"k":15,"t":0.2,"v":0.124},{"k":15,"t":0.222,"v":0.19},{"k":15,"t":0.2305,"v":0.206},{"k":15,"t":0.2388,"v":0.214},{"k":15,"t":0.2468,"v":0.204},{"k":15,"t":0.2528,"v":0.184},{"k":15,"t":0.2636,"v":0.089},{"k":15,"t":0.2695,"v":0},{"k":15,"t":0.2775,"v":-0.106},{"k":15,"t":0.2873,"v":-0.196},{"k":15,"t":0.2974,"v":-0.236},{"k":15,"t":0.31,"v":-0.249},{"k":15,"t":0.3259,"v":-0.2305},{"k":15,"t":0.3458,"v":-0.1685},{"k":15,"t":0.4,"v":-0.0927},{"k":15,"t":0.43,"v":-0.0563},{"k":15,"t":0.462,"v":-0.0203},

      {"k":16,"t":-0.46,"v":0.208},{"k":16,"t":-0.45,"v":0.164},{"k":16,"t":-0.44,"v":0.089},{"k":16,"t":-0.43,"v":0.018},{"k":16,"t":-0.42,"v":-0.06},{"k":16,"t":-0.41,"v":-0.17},{"k":16,"t":-0.4,"v":-0.234},{"k":16,"t":-0.39,"v":-0.249},{"k":16,"t":-0.38,"v":-0.245},{"k":16,"t":-0.36,"v":-0.221},{"k":16,"t":-0.34,"v":-0.189},{"k":16,"t":-0.32,"v":-0.154},{"k":16,"t":-0.3,"v":-0.119},{"k":16,"t":-0.28,"v":-0.085},{"k":16,"t":-0.26,"v":-0.056},
      {"k":16,"t":-0.235,"v":-0.012},{"k":16,"t":-0.208,"v":0.05},{"k":16,"t":-0.195,"v":0.095},{"k":16,"t":-0.185,"v":0.117},{"k":16,"t":-0.177,"v":0.103},{"k":16,"t":-0.17,"v":0.078},{"k":16,"t":-0.152,"v":0},{"k":16,"t":-0.138,"v":-0.06},{"k":16,"t":-0.124,"v":-0.102},{"k":16,"t":-0.1,"v":-0.082},{"k":16,"t":-0.07,"v":-0.049},{"k":16,"t":-0.045,"v":-0.022},
      {"k":16,"t":-0.035,"v":-0.003},{"k":16,"t":-0.03,"v":0.035},{"k":16,"t":-0.024,"v":0.16},{"k":16,"t":-0.018,"v":0.38},{"k":16,"t":-0.012,"v":0.67},{"k":16,"t":-0.006,"v":0.93},{"k":16,"t":0,"v":1},{"k":16,"t":0.005,"v":0.93},{"k":16,"t":0.01,"v":0.69},{"k":16,"t":0.014,"v":0.4},{"k":16,"t":0.018,"v":0.02},{"k":16,"t":0.022,"v":-0.21},{"k":16,"t":0.026,"v":-0.285},{"k":16,"t":0.029,"v":-0.315},
      {"k":16,"t":0.045,"v":-0.28},{"k":16,"t":0.06,"v":-0.255},{"k":16,"t":0.09,"v":-0.155},{"k":16,"t":0.12,"v":-0.085},{"k":16,"t":0.158,"v":0.002},{"k":16,"t":0.2,"v":0.126},{"k":16,"t":0.222,"v":0.19},{"k":16,"t":0.23,"v":0.205},{"k":16,"t":0.238,"v":0.212},{"k":16,"t":0.246,"v":0.203},{"k":16,"t":0.252,"v":0.185},{"k":16,"t":0.263,"v":0.09},{"k":16,"t":0.269,"v":0},{"k":16,"t":0.277,"v":-0.105},{"k":16,"t":0.287,"v":-0.195},{"k":16,"t":0.297,"v":-0.235},{"k":16,"t":0.309,"v":-0.247},{"k":16,"t":0.325,"v":-0.228},{"k":16,"t":0.345,"v":-0.165},{"k":16,"t":0.4,"v":-0.089},{"k":16,"t":0.43,"v":-0.054},{"k":16,"t":0.462,"v":-0.019},

      {"k":17,"t":-0.46,"v":0.087},{"k":17,"t":-0.45,"v":0.11},{"k":17,"t":-0.44,"v":0.123},{"k":17,"t":-0.435,"v":0.126},{"k":17,"t":-0.43,"v":0.122},{"k":17,"t":-0.42,"v":0.095},{"k":17,"t":-0.41,"v":0.05},{"k":17,"t":-0.4,"v":0},{"k":17,"t":-0.39,"v":-0.045},{"k":17,"t":-0.38,"v":-0.082},{"k":17,"t":-0.37,"v":-0.112},{"k":17,"t":-0.36,"v":-0.135},{"k":17,"t":-0.35,"v":-0.147},{"k":17,"t":-0.34,"v":-0.15},{"k":17,"t":-0.33,"v":-0.143},{"k":17,"t":-0.31,"v":-0.13},{"k":17,"t":-0.29,"v":-0.105},{"k":17,"t":-0.27,"v":-0.075},{"k":17,"t":-0.25,"v":-0.046},
      {"k":17,"t":-0.235,"v":-0.038},{"k":17,"t":-0.223,"v":-0.03},{"k":17,"t":-0.213,"v":0},{"k":17,"t":-0.2,"v":0.05},{"k":17,"t":-0.19,"v":0.09},{"k":17,"t":-0.183,"v":0.107},{"k":17,"t":-0.17,"v":0.083},{"k":17,"t":-0.155,"v":0.049},{"k":17,"t":-0.14,"v":0},{"k":17,"t":-0.125,"v":-0.078},{"k":17,"t":-0.11,"v":-0.115},{"k":17,"t":-0.095,"v":-0.108},{"k":17,"t":-0.07,"v":-0.082},{"k":17,"t":-0.045,"v":-0.046},
      {"k":17,"t":-0.035,"v":-0.01},{"k":17,"t":-0.03,"v":0.035},{"k":17,"t":-0.024,"v":0.16},{"k":17,"t":-0.018,"v":0.38},{"k":17,"t":-0.012,"v":0.67},{"k":17,"t":-0.006,"v":0.93},{"k":17,"t":0,"v":1},{"k":17,"t":0.005,"v":0.93},{"k":17,"t":0.01,"v":0.69},{"k":17,"t":0.014,"v":0.4},{"k":17,"t":0.018,"v":0.02},{"k":17,"t":0.022,"v":-0.21},{"k":17,"t":0.026,"v":-0.29},{"k":17,"t":0.029,"v":-0.32},
      {"k":17,"t":0.045,"v":-0.285},{"k":17,"t":0.06,"v":-0.255},{"k":17,"t":0.09,"v":-0.15},{"k":17,"t":0.12,"v":-0.08},{"k":17,"t":0.158,"v":0.01},{"k":17,"t":0.2,"v":0.128},{"k":17,"t":0.22,"v":0.16},{"k":17,"t":0.2345,"v":0.168},{"k":17,"t":0.248,"v":0.143},{"k":17,"t":0.258,"v":0.083},{"k":17,"t":0.2643,"v":0.004},{"k":17,"t":0.2726,"v":-0.089},{"k":17,"t":0.2826,"v":-0.168},{"k":17,"t":0.294,"v":-0.208},{"k":17,"t":0.309,"v":-0.209},{"k":17,"t":0.324,"v":-0.194},{"k":17,"t":0.34,"v":-0.155},{"k":17,"t":0.357,"v":-0.108},{"k":17,"t":0.4,"v":-0.049},{"k":17,"t":0.43,"v":-0.015},{"k":17,"t":0.462,"v":0.017}
    ]
  },
  "layer": [
    {
      "mark": {"type": "line", "strokeWidth": 0.8, "strokeOpacity": 0.7, "clip": true},
      "encoding": {
        "x": {
          "field": "t",
          "type": "quantitative",
          "scale": {"domain": [-0.462, 0.4615], "nice": false, "zero": false},
          "axis": {
            "orient": "bottom",
            "values": [-0.4, -0.2, 0, 0.2, 0.4],
            "labelExpr": "toString(datum.value)",
            "title": "time (s)",
            "titleY": 83,
            "titleBaseline": "alphabetic",
            "labelPadding": 25
          }
        },
        "y": {
          "field": "v",
          "type": "quantitative",
          "scale": {"domain": [-0.35, 1.1], "nice": false, "zero": false},
          "axis": {
            "orient": "left",
            "values": [-0.2, 0, 0.2, 0.4, 0.6, 0.8, 1],
            "labelExpr": "toString(datum.value)",
            "title": "Normalized amplitude",
            "titleX": -90,
            "titleY": 367,
            "titleAngle": 270,
            "titleBaseline": "alphabetic",
            "labelPadding": 13
          }
        },
        "color": {
          "field": "k",
          "type": "quantitative",
          "scale": {"domain": [0, 17], "range": ["#0000ff", "#ff0000"], "interpolate": "rgb"},
          "legend": null
        },
        "detail": {"field": "k", "type": "nominal"}
      }
    },
    {
      "data": {"values": [{"t": 0, "v": 0}]},
      "mark": {"type": "point", "opacity": 0},
      "encoding": {
        "x": {
          "field": "t",
          "type": "quantitative",
          "axis": {"orient": "top", "values": [-0.4, -0.2, 0, 0.2, 0.4], "labels": false, "grid": false, "title": null}
        },
        "y": {
          "field": "v",
          "type": "quantitative",
          "axis": {"orient": "right", "values": [-0.2, 0, 0.2, 0.4, 0.6, 0.8, 1], "labels": false, "grid": false, "title": null}
        }
      }
    }
  ],
  "resolve": {"axis": {"x": "independent", "y": "independent"}},
  "config": {
    "view": {"stroke": "#262626", "strokeWidth": 1},
    "axis": {
      "domain": false,
      "grid": true,
      "gridColor": "#dcdcdc",
      "gridWidth": 1,
      "ticks": true,
      "tickSize": -10,
      "tickColor": "#262626",
      "tickWidth": 1,
      "labelFont": "DejaVu Sans",
      "labelFontSize": 32,
      "labelColor": "#262626",
      "titleFont": "DejaVu Sans",
      "titleFontSize": 33,
      "titleFontWeight": "normal",
      "titleColor": "#262626"
    }
  }
}
